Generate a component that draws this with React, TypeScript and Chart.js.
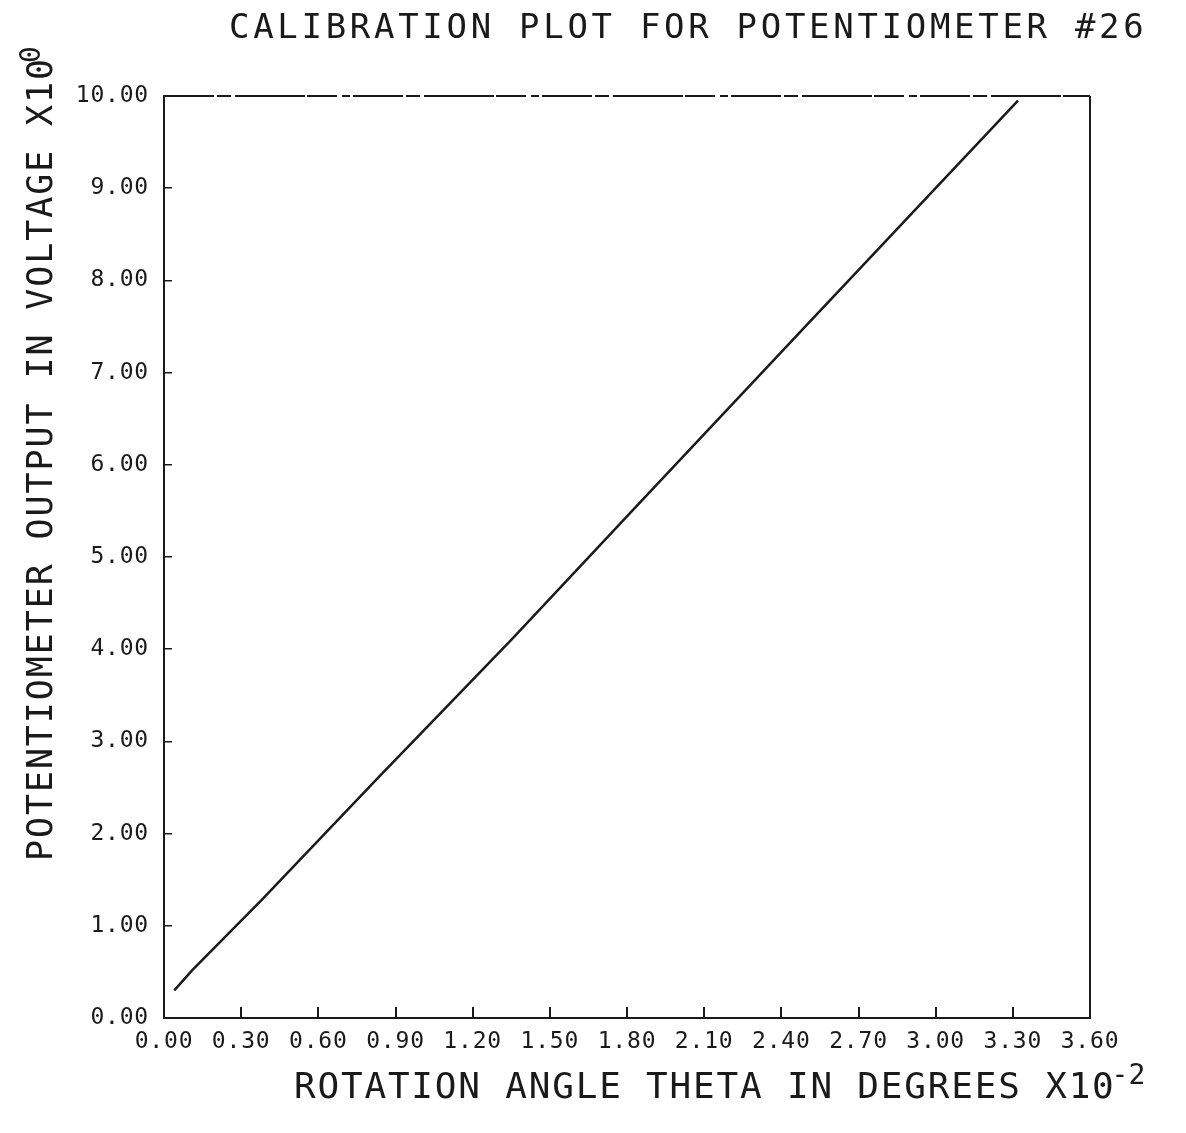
import React, { useEffect, useRef } from "react";
import { Chart, registerables } from "chart.js";

Chart.register(...registerables);

// ---- data ----
const THETA: number[] = [0.04, 0.11, 0.38, 0.83, 1.35, 1.86, 2.48, 3.03, 3.32]; // degrees x10^-2
const VOLTS: number[] = [0.3, 0.52, 1.28, 2.6, 4.1, 5.62, 7.46, 9.09, 9.95]; // volts x10^0

const X_MIN = 0;
const X_MAX = 3.6;
const X_STEP = 0.3;
const Y_MIN = 0;
const Y_MAX = 10;
const Y_STEP = 1;

const TITLE = "CALIBRATION PLOT FOR POTENTIOMETER #26";
const X_TITLE = "ROTATION ANGLE THETA IN DEGREES X10";
const X_EXP = "-2";
const Y_TITLE = "POTENTIOMETER OUTPUT IN VOLTAGE X10";
const Y_EXP = "0";

const FONT = "'DejaVu Sans Mono', 'Liberation Mono', monospace";
const INK = "#1a1a1a";

const frameAndText = {
  id: "frameAndText",
  beforeDraw(chart: any) {
    chart.ctx.letterSpacing = "0.8px";
  },
  afterDraw(chart: any) {
    const ctx = chart.ctx as CanvasRenderingContext2D;
    const a = chart.chartArea;
    ctx.save();
    // frame (top and right sides)
    ctx.strokeStyle = INK;
    ctx.lineWidth = 2;
    ctx.beginPath();
    ctx.moveTo(a.right, a.bottom);
    ctx.lineTo(a.right, a.top);
    ctx.stroke();
    ctx.setLineDash([50, 3, 14, 4, 70, 2, 30, 5, 8, 3]);
    ctx.lineWidth = 1.8;
    ctx.beginPath();
    ctx.moveTo(a.left, a.top);
    ctx.lineTo(a.right, a.top);
    ctx.stroke();
    ctx.setLineDash([]);

    ctx.fillStyle = INK;
    ctx.textAlign = "left";
    ctx.textBaseline = "alphabetic";

    // main title
    ctx.font = `34px ${FONT}`;
    (ctx as any).letterSpacing = "3.7px";
    ctx.fillText(TITLE, 229, 38);

    // x axis title
    ctx.font = `36px ${FONT}`;
    (ctx as any).letterSpacing = "1.8px";
    ctx.fillText(X_TITLE, 294, 1098);
    const xw = ctx.measureText(X_TITLE).width;
    ctx.font = `28px ${FONT}`;
    (ctx as any).letterSpacing = "0px";
    ctx.fillText(X_EXP, 294 + xw - 4, 1084);

    // y axis title (rotated)
    ctx.save();
    ctx.translate(52, 861);
    ctx.rotate(-Math.PI / 2);
    ctx.font = `35px ${FONT}`;
    (ctx as any).letterSpacing = "1.9px";
    ctx.fillText(Y_TITLE, 0, 0);
    const yw = ctx.measureText(Y_TITLE).width;
    ctx.font = `28px ${FONT}`;
    (ctx as any).letterSpacing = "0px";
    ctx.fillText(Y_EXP, yw - 6, -12);
    ctx.restore();

    ctx.restore();
  },
};

export default function App() {
  const ref = useRef<HTMLCanvasElement | null>(null);

  useEffect(() => {
    if (!ref.current) return;
    const chart = new Chart(ref.current, {
      type: "scatter",
      data: {
        datasets: [
          {
            data: THETA.map((t, i) => ({ x: t, y: VOLTS[i] })),
            showLine: true,
            borderColor: INK,
            borderWidth: 2.5,
            pointRadius: 0,
            tension: 0,
          },
        ],
      },
      options: {
        responsive: false,
        animation: false,
        events: [],
        layout: { padding: { top: 96, right: 96, left: 0, bottom: 0 } },
        plugins: {
          legend: { display: false },
          title: { display: false },
          tooltip: { enabled: false },
        },
        scales: {
          x: {
            type: "linear",
            min: X_MIN,
            max: X_MAX,
            afterFit: (s: any) => {
              s.height = 115;
            },
            ticks: {
              stepSize: X_STEP,
              autoSkip: false,
              maxRotation: 0,
              minRotation: 0,
              padding: 21,
              color: INK,
              font: { family: FONT, size: 23 },
              callback: (v: any) => Number(v).toFixed(2),
            },
            grid: {
              drawOnChartArea: false,
              drawTicks: true,
              tickLength: -11,
              color: INK,
              lineWidth: 2,
            },
            border: { display: true, color: INK, width: 2 },
          },
          y: {
            type: "linear",
            min: Y_MIN,
            max: Y_MAX,
            afterFit: (s: any) => {
              s.width = 164;
            },
            ticks: {
              stepSize: Y_STEP,
              padding: 23,
              color: INK,
              font: { family: FONT, size: 23 },
              callback: (v: any) => Number(v).toFixed(2),
            },
            grid: {
              drawOnChartArea: false,
              drawTicks: true,
              tickLength: -8,
              color: INK,
              lineWidth: 1.5,
            },
            border: { display: true, color: INK, width: 2 },
          },
        },
      },
      plugins: [frameAndText],
    } as any);
    return () => chart.destroy();
  }, []);

  return (
    <div style={{ position: "absolute", left: 0, top: 0, width: 1186, height: 1133, background: "#fff" }}>
      <canvas ref={ref} width={1186} height={1133} style={{ display: "block" }} />
    </div>
  );
}
